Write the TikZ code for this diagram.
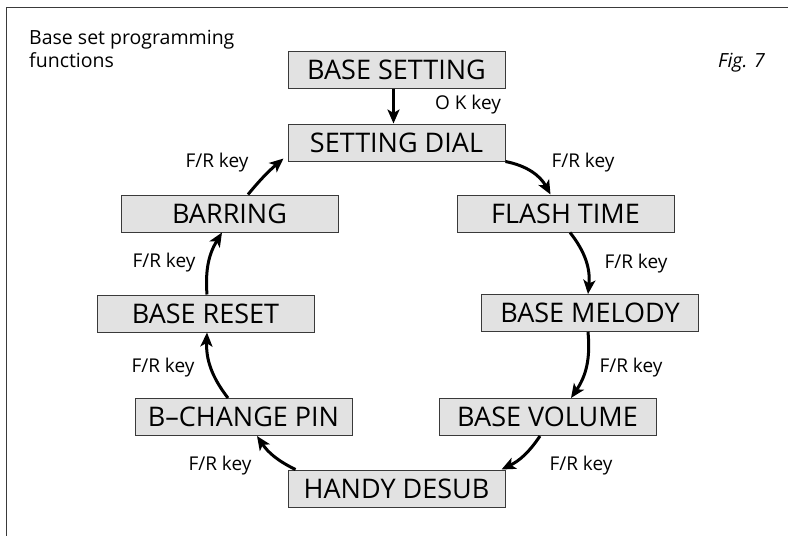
\documentclass[tikz,border=0pt]{standalone}
\usepackage{fontspec}
\setmainfont{Open Sans}
\usetikzlibrary{arrows.meta,calc}
\definecolor{boxfill}{HTML}{E2E2E2}
\definecolor{boxline}{HTML}{3A3A3A}
\tikzset{
  statebox/.style={draw=boxline, line width=1pt, fill=boxfill, minimum width=217pt, minimum height=37pt,
    inner sep=0pt, text height=19.3pt, text depth=0pt, font=\fontsize{27}{27}\selectfont},
  flow/.style={line width=3pt, -{Stealth[length=14pt,width=12pt,inset=3.5pt]}},
  keylabel/.style={font=\fontsize{19}{19}\selectfont, inner sep=0pt},
}
\begin{document}
\begin{tikzpicture}[x=1pt,y=1pt]
\useasboundingbox (0,0) rectangle (788,-536);
\draw[line width=1pt, draw=boxline] (6,-536) -- (6,-7) -- (788,-7);

\node[anchor=base west, inner sep=0pt, align=left, font=\fontsize{19.5}{23}\selectfont] (title) at (29,-67) {Base set programming\\functions};
\node[anchor=base west, inner sep=0pt, font=\fontsize{19.5}{23}\selectfont\itshape] (fig) at (718,-67) {Fig. 7};

\node[statebox] (bs) at (396.5,-69.5) {BASE SETTING};
\node[statebox] (sd) at (396.5,-142.5) {SETTING DIAL};
\node[statebox] (fl) at (565.5,-213.5) {FLASH TIME};
\node[statebox] (mel) at (590,-313) {BASE MELODY};
\node[statebox] (vol) at (547.5,-417) {BASE VOLUME};
\node[statebox] (hd) at (396.5,-488.5) {HANDY DESUB};
\node[statebox] (bc) at (243.5,-417) {B–CHANGE PIN};
\node[statebox] (br) at (205.5,-313.5) {BASE RESET};
\node[statebox] (bar) at (229.5,-213.5) {BARRING};

\draw[flow] ($(bs.south)+(-3,0)$) -- ($(sd.north)+(-3,0)$);
\draw[flow] (sd.south east) to[bend left=25] ($(fl.north)+(-15,0)$);
\draw[flow] ($(fl.south)+(4.5,0)$) to[bend left=22] ($(mel.north)+(-2,0)$);
\draw[flow] ($(mel.south)+(-2,0)$) to[bend left=20] ($(vol.north)+(23.5,0)$);
\draw[flow] ($(vol.south)+(-7.5,0)$) to[bend left=15] ($(hd.north east)+(-4,0)$);
\draw[flow] ($(hd.north west)+(8,0)$) to[bend left=15] ($(bc.south)+(13.5,0)$);
\draw[flow] ($(bc.north)+(-15.5,0)$) to[bend left=20] ($(br.south)+(1.5,0)$);
\draw[flow] ($(br.north)+(1.5,0)$) to[bend left=18] ($(bar.south)+(-7.5,0)$);
\draw[flow] ($(bar.north)+(18.5,0)$) to[bend left=5] ($(sd.south west)+(-4,3)$);

\node[keylabel] (l1) at (468,-105) {O K key};
\node[keylabel] (l2) at (583,-163) {F/R key};
\node[keylabel] (l3) at (636,-264) {F/R key};
\node[keylabel] (l4) at (631,-368) {F/R key};
\node[keylabel] (l5) at (581,-466) {F/R key};
\node[keylabel] (l6) at (220,-466) {F/R key};
\node[keylabel] (l7) at (163,-368) {F/R key};
\node[keylabel] (l8) at (164,-263) {F/R key};
\node[keylabel] (l9) at (217,-163) {F/R key};
\end{tikzpicture}
\end{document}
